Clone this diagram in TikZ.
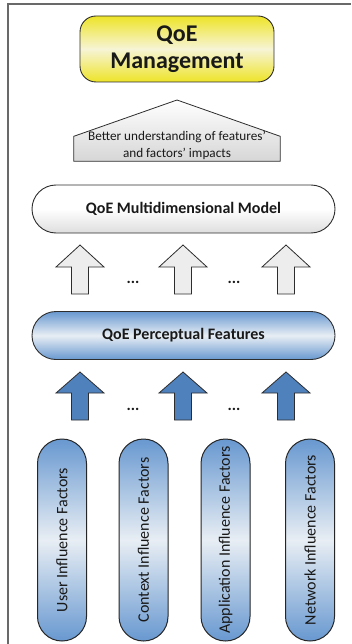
\documentclass[tikz,border=0pt]{standalone}
\usepackage{fontspec}
\setmainfont{Carlito}
\usepackage{tikz}
\usetikzlibrary{shapes,arrows,positioning}
\definecolor{qyellow}{RGB}{238,228,40}
\definecolor{qyellowlt}{RGB}{246,244,214}
\definecolor{qblue}{RGB}{104,152,208}
\definecolor{qbluelt}{RGB}{232,238,244}
\definecolor{qarrow}{RGB}{79,129,189}
\definecolor{qline}{RGB}{45,45,45}
\definecolor{qframe}{RGB}{105,105,105}
\definecolor{qtext}{RGB}{25,25,25}
\tikzstyle{mgmt} = [rectangle, draw=qline, line width=0.9pt, rounded corners=16pt,
    top color=qyellow, bottom color=qyellow, middle color=qyellowlt,
    minimum width=194pt, minimum height=66pt, text width=180pt, align=center,
    font=\fontsize{24}{27}\selectfont\bfseries, text=qtext]
\tikzstyle{pill} = [rounded rectangle, draw=qline, line width=0.9pt,
    minimum width=303pt, minimum height=48pt, inner sep=0pt,
    font=\fontsize{16}{18}\selectfont\bfseries, text=qtext]
\tikzstyle{model} = [pill, top color=white, bottom color=black!13, middle color=white]
\tikzstyle{percep} = [pill, top color=qblue, bottom color=qblue, middle color=qbluelt]
\tikzstyle{factor} = [rounded rectangle, draw=black!85, line width=1pt, rotate=90,
    minimum width=202pt, minimum height=49pt, inner sep=0pt,
    top color=qblue, bottom color=qblue, middle color=qbluelt,
    font=\fontsize{16}{18}\selectfont, text=qtext]
\tikzstyle{blockarrow} = [draw=qline, line width=0.8pt]
\tikzstyle{dots} = [font=\fontsize{16}{18}\selectfont\bfseries, text=qtext]
\tikzstyle{housetext} = [font=\fontsize{13.2}{16.5}\selectfont, text=qtext, align=center]

\begin{document}
\begin{tikzpicture}[x=1pt, y=-1pt]
    \useasboundingbox (0,0) rectangle (351,644);
    % frame
    \draw [qframe, line width=1.5pt] (8,644) -- (8,4) -- (351,4);
    % Place nodes
    \node [mgmt] (mgmt) at (177,49) {QoE\\Management};
    \node [minimum width=206pt, minimum height=37pt, inner sep=0pt] (better) at (177,142.5) {};
    \coordinate (roof) at (177,100);
    \node [model] (model) at (183.5,209) {QoE Multidimensional Model};
    \node [percep] (percep) at (183.5,335.5) {QoE Perceptual Features};
    \node [factor] (user) at (62,540) {User Influence Factors};
    \node [factor] (context) at (143.5,540) {Context Influence Factors};
    \node [factor] (app) at (225.5,540) {Application Influence Factors};
    \node [factor] (net) at (310,540) {Network Influence Factors};
    % house shaped box
    \draw [qline, line width=0.8pt, top color=white, bottom color=black!16]
        (better.south west) -- (better.south east) -- ([yshift=-12.5pt]better.north east)
        -- (roof) -- ([yshift=-12.5pt]better.north west) -- cycle;
    \node [housetext] (bettertext) at ([yshift=-3pt]better)
        {Better understanding of features'\\and factors' impacts};
    % Draw edges
    \foreach \x/\n in {80/1,183/2,286/3} {
        \coordinate (wtip\n) at (\x,245);
        \coordinate (btip\n) at (\x,372);
        \draw [blockarrow, fill=black!7] (wtip\n) -- ++(24,22) -- ++(-15.5,0) -- ++(0,27)
            -- ++(-17,0) -- ++(0,-27) -- ++(-15.5,0) -- cycle;
        \draw [blockarrow, fill=qarrow] (btip\n) -- ++(24,21) -- ++(-15.5,0) -- ++(0,27)
            -- ++(-17,0) -- ++(0,-27) -- ++(-15.5,0) -- cycle;
    }
    \node [dots] (wdots1) at (133,282) {...};
    \node [dots] (wdots2) at (234,282) {...};
    \node [dots] (bdots1) at (133,409) {...};
    \node [dots] (bdots2) at (234,409) {...};
\end{tikzpicture}
\end{document}
